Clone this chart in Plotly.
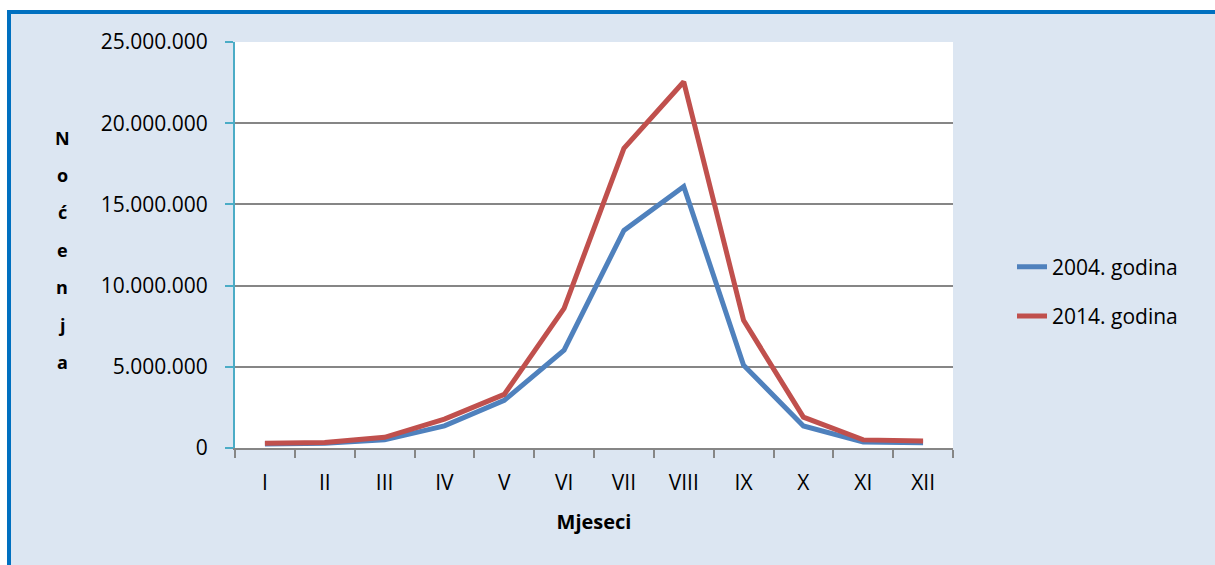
import plotly.graph_objects as go

months = ["I", "II", "III", "IV", "V", "VI", "VII", "VIII", "IX", "X", "XI", "XII"]
nights_2004 = [250000, 300000, 500000, 1360000, 2930000, 6030000, 13400000, 16100000, 5100000, 1360000, 370000, 330000]
nights_2014 = [300000, 340000, 660000, 1780000, 3300000, 8600000, 18450000, 22550000, 7860000, 1900000, 500000, 430000]
series_names = ["2004. godina", "2014. godina"]
y_ticks = [0, 5000000, 10000000, 15000000, 20000000, 25000000]
y_title = "Noćenja"
x_title = "Mjeseci"

W, H = 1215, 565
L, R, T, B = 235, 953, 42, 448
pw, ph = R - L, B - T


def px(x):
    return (x - L) / pw


def py(y):
    return (B - y) / ph


FONT = "Open Sans"
BLUE = "#4F81BD"
RED = "#C0504D"
GRID = "#868686"
AXIS_Y = "#4BACC6"

fig = go.Figure()
for name, vals, col in [(series_names[0], nights_2004, BLUE), (series_names[1], nights_2014, RED)]:
    fig.add_trace(go.Scatter(x=months, y=vals, mode="lines", name=name,
                             legendgroup=name,
                             line=dict(color=col, width=5)))

shapes = [
    dict(type="rect", xref="paper", yref="paper", x0=px(-5), x1=px(W + 5), y0=py(0), y1=py(10),
         fillcolor="white", line=dict(width=0), layer="below"),
    dict(type="rect", xref="paper", yref="paper", x0=px(-5), x1=px(7), y0=py(H + 5), y1=py(-5),
         fillcolor="white", line=dict(width=0), layer="below"),
    dict(type="line", xref="paper", yref="paper", x0=px(7), x1=px(W + 5), y0=py(12), y1=py(12),
         line=dict(color="#0070C0", width=4), layer="below"),
    dict(type="line", xref="paper", yref="paper", x0=px(9), x1=px(9), y0=py(10), y1=py(H + 5),
         line=dict(color="#0070C0", width=4), layer="below"),
]

annotations = []
for i, ch in enumerate(y_title):
    yy = 137.5 + i * 37.4
    annotations.append(dict(text="<b>%s</b>" % ch, xref="paper", yref="paper", x=px(62), y=py(yy),
                            xanchor="center", yanchor="middle", showarrow=False,
                            font=dict(family=FONT, size=18, color="black")))

fig.update_layout(
    width=W, height=H,
    margin=dict(l=L, r=W - R, t=T, b=H - B),
    paper_bgcolor="#DCE6F2",
    plot_bgcolor="white",
    separators=",.",
    font=dict(family=FONT, size=21, color="black"),
    shapes=shapes,
    annotations=annotations,
    showlegend=True,
    legend=dict(x=px(1012), y=py(291.5), xanchor="left", yanchor="middle",
                bgcolor="rgba(0,0,0,0)", font=dict(family=FONT, size=21, color="black"),
                tracegroupgap=19, itemwidth=30),
    xaxis=dict(
        range=[-0.5, len(months) - 0.5],
        showgrid=False, showline=True, linecolor=GRID, linewidth=2,
        ticks="outside", tickson="boundaries", ticklen=8, tickwidth=2, tickcolor=GRID,
        ticklabelstandoff=15,
        tickfont=dict(family=FONT, size=21, color="black"),
        title=dict(text="<b>%s</b>" % x_title, font=dict(family=FONT, size=20, color="black"), standoff=20),
        fixedrange=True,
    ),
    yaxis=dict(
        range=[0, 25000000], tickvals=y_ticks, tickformat=",d",
        showgrid=True, gridcolor=GRID, gridwidth=2,
        showline=True, linecolor=AXIS_Y, linewidth=2,
        ticks="outside", ticklen=8, tickwidth=2, tickcolor=AXIS_Y,
        ticklabelstandoff=13,
        tickfont=dict(family=FONT, size=21, color="black"),
        zeroline=False, fixedrange=True,
    ),
)

fig.write_html("out.html", config={"displayModeBar": False},
               post_script="document.body.style.margin='0px';document.body.style.overflow='hidden';")
